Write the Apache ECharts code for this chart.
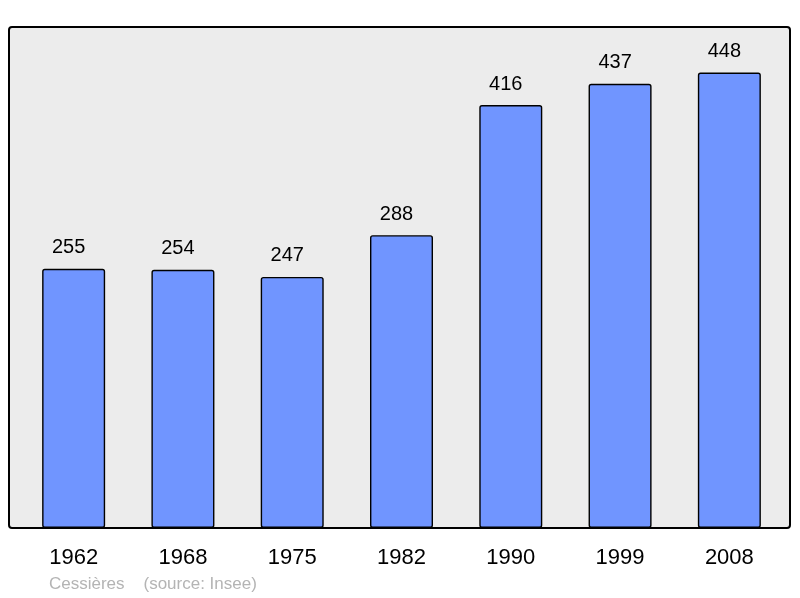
<!DOCTYPE html>
<html>
<head>
<meta charset="utf-8">
<title>Cessières population</title>
<script src="https://cdn.jsdelivr.net/npm/echarts@6/dist/echarts.min.js"></script>
<style>
  html, body { margin: 0; padding: 0; background: #fff; }
  #chart { width: 800px; height: 598px; }
</style>
</head>
<body>
<div id="chart"></div>
<script>
// population by census year
const years = ['1962', '1968', '1975', '1982', '1990', '1999', '2008'];
const population = [255, 254, 247, 288, 416, 437, 448];
const footerText = 'Cessières    (source: Insee)';

const chart = echarts.init(document.getElementById('chart'));

const option = {
    animation: false,
    backgroundColor: '#ffffff',
    textStyle: { fontFamily: 'Liberation Sans, Arial, sans-serif' },
    grid: { left: 19, right: 16, top: 27, bottom: 70 },
    graphic: [
        {
            // panel background behind the bars
            type: 'rect',
            z: -10,
            silent: true,
            shape: { x: 9, y: 27, width: 781, height: 501, r: 3 },
            style: { fill: '#ececec', stroke: '#000', lineWidth: 2 }
        },
        {
            type: 'text',
            left: 49,
            top: 576,
            style: {
                text: footerText,
                fill: '#b4b4b4',
                font: '17px Liberation Sans, Arial, sans-serif'
            }
        }
    ],
    xAxis: {
        type: 'category',
        data: years,
        axisLine: { show: false },
        axisTick: { show: false },
        axisLabel: {
            color: '#000',
            fontSize: 22,
            margin: 19
        }
    },
    yAxis: {
        type: 'value',
        min: 0,
        max: 492.8,
        show: false,
        splitLine: { show: false }
    },
    series: [{
        type: 'bar',
        data: population,
        barWidth: 63,
        itemStyle: {
            color: '#7095ff',
            borderColor: '#000',
            borderWidth: 1.4,
            borderRadius: 2
        },
        label: {
            show: true,
            position: 'top',
            distance: 11,
            offset: [-5, 0],
            color: '#000',
            fontSize: 20
        }
    }]
};

chart.setOption(option);
</script>
</body>
</html>
